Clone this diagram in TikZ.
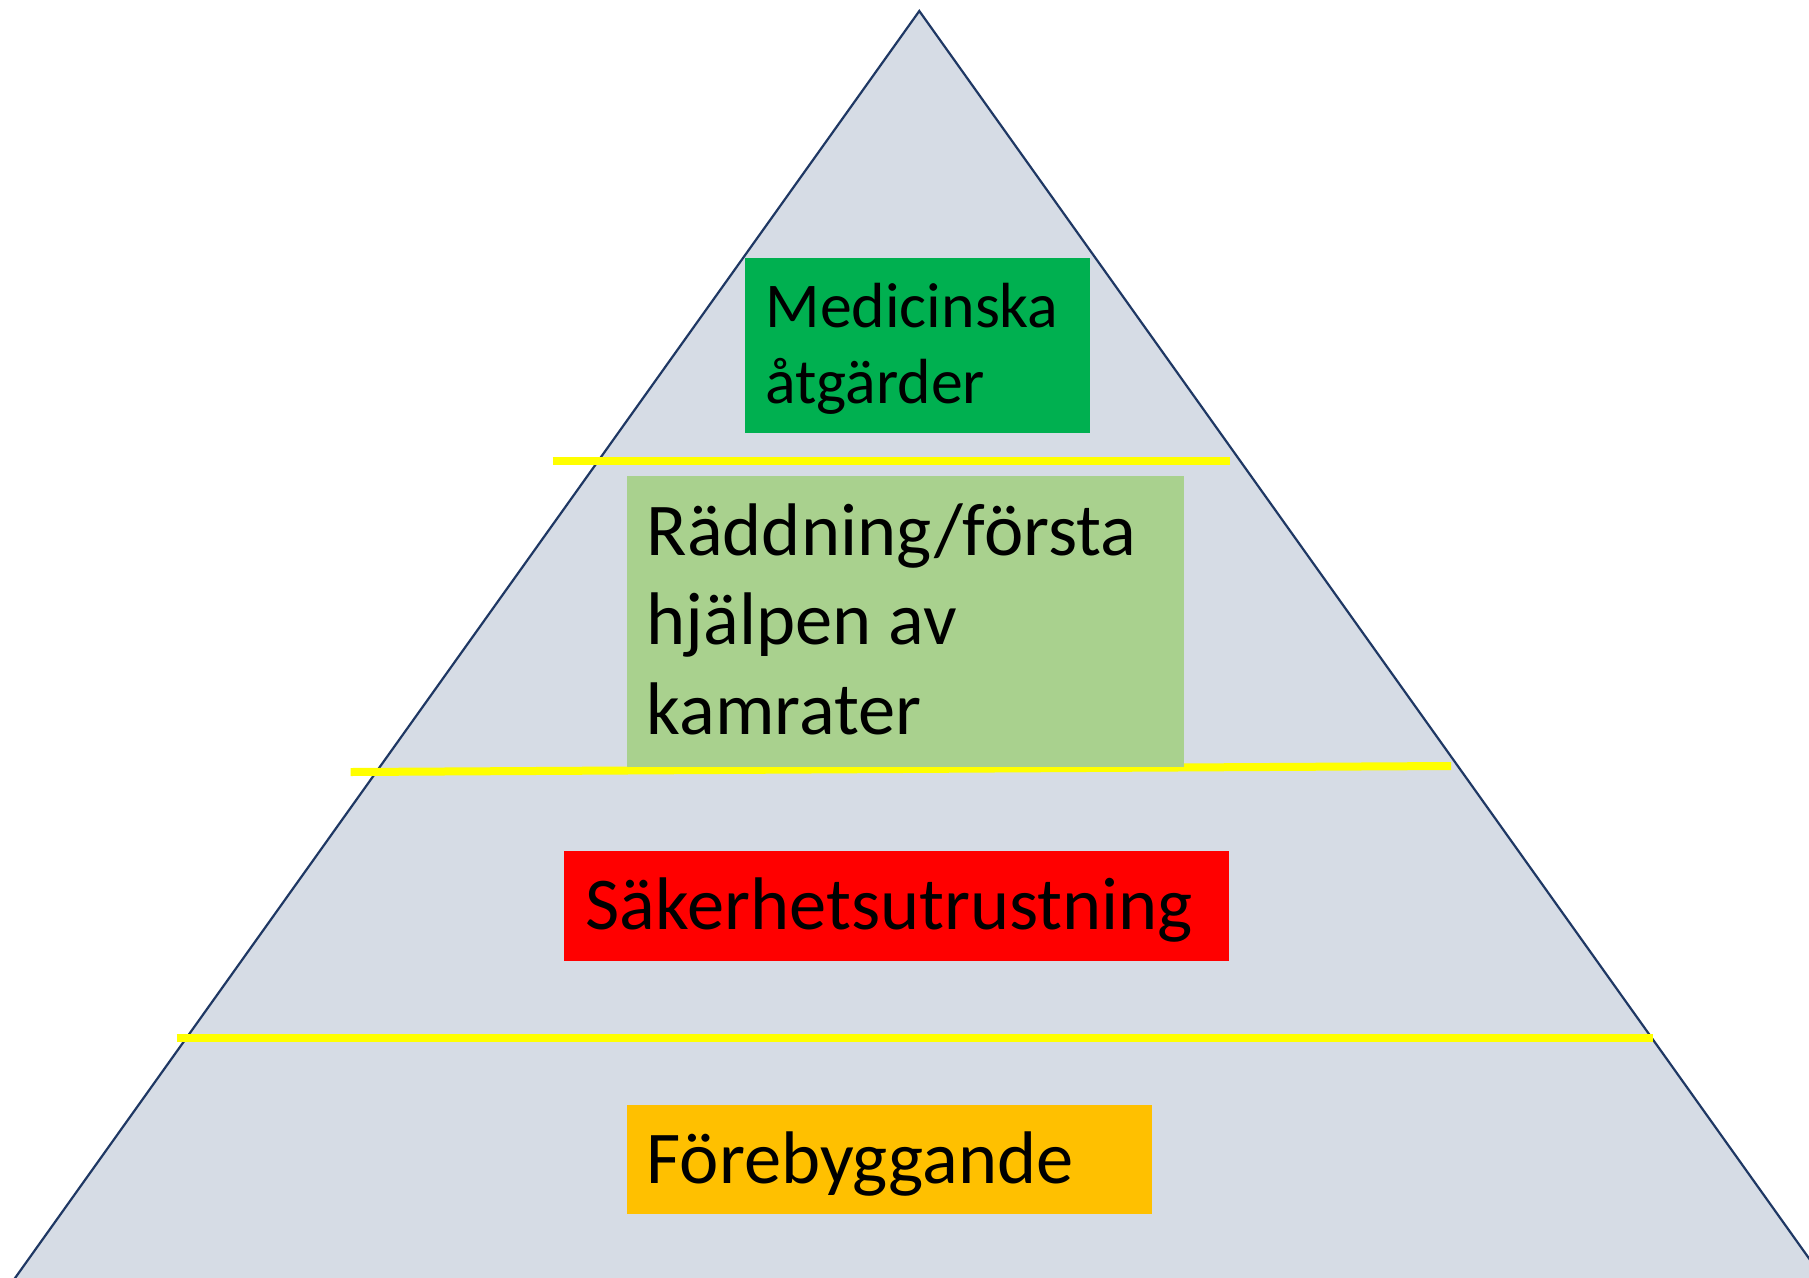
\documentclass[tikz,border=0pt]{standalone}
\usepackage{fontspec}
\setmainfont{Carlito}
\definecolor{pyrfill}{HTML}{D6DCE5}
\definecolor{pyrline}{HTML}{1F3864}
\definecolor{band}{HTML}{FFFF00}
\definecolor{medgreen}{HTML}{00B050}
\definecolor{lightgreen}{HTML}{A9D18E}
\definecolor{alertred}{HTML}{FF0000}
\definecolor{amber}{HTML}{FFC000}
\tikzset{
  box/.style={draw=none, inner sep=0pt, outer sep=0pt, anchor=north west},
  bigtext/.style={inner sep=0pt, anchor=base west, font=\fontsize{74.5}{90}\selectfont},
  smalltext/.style={inner sep=0pt, anchor=base west, font=\fontsize{63.8}{77}\selectfont},
  divider/.style={draw=band, line width=8pt}
}
\begin{document}
\begin{tikzpicture}[x=1pt,y=-1pt]
\useasboundingbox (0,0) rectangle (1809,1277);
\clip (0,0) rectangle (1809,1277);
% pyramid
\filldraw[fill=pyrfill, draw=pyrline, line width=2.2pt] (919.3,11) -- (-72,1400) -- (1910,1400) -- cycle;
% dividers
\draw[divider] (552.6,461) -- (1230,461);
\draw[divider] (350.7,772) -- (1451,766);
\draw[divider] (176.5,1038) -- (1652.5,1038);
% boxes
\node[box, fill=medgreen, minimum width=345pt, minimum height=175pt] (medbox) at (745,258) {};
\node[box, fill=lightgreen, minimum width=557.5pt, minimum height=291pt] (rescuebox) at (626.5,475.5) {};
\node[box, fill=alertred, minimum width=665pt, minimum height=109.5pt] (safetybox) at (564,851) {};
\node[box, fill=amber, minimum width=525pt, minimum height=109.5pt] (prevbox) at (626.5,1104.5) {};
% labels
\node[smalltext] (med1) at (765.3,327) {Medicinska};
\node[smalltext] (med2) at (765.3,403) {åtgärder};
\node[bigtext] (res1) at (646.5,555) {Räddning/första};
\node[bigtext] (res2) at (646.5,644) {hjälpen av};
\node[bigtext] (res3) at (646.5,734) {kamrater};
\node[bigtext] (safe1) at (585.5,929) {Säkerhetsutrustning};
\node[bigtext] (prev1) at (646.5,1183) {Förebyggande};
\end{tikzpicture}
\end{document}
